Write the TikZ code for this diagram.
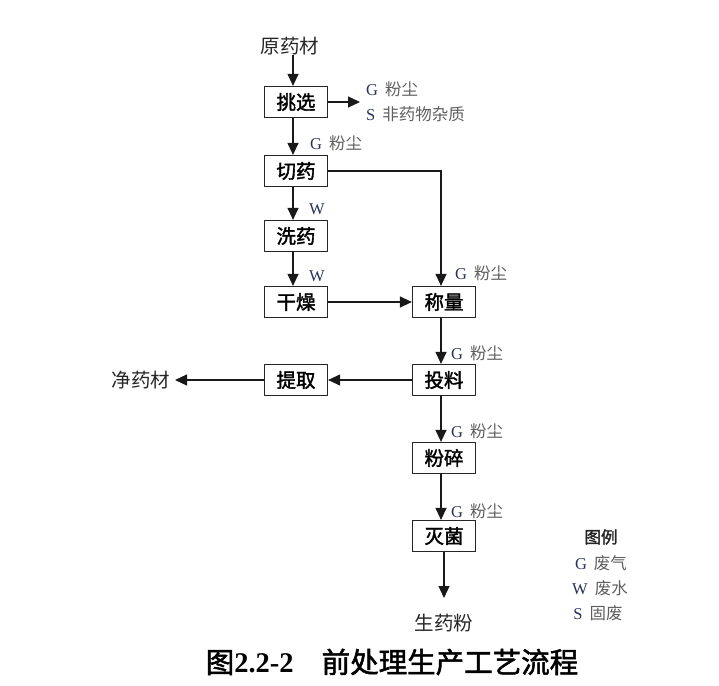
\documentclass[tikz,border=0pt]{standalone}
\usepackage{fontspec}
\setmainfont{Liberation Serif}
\newfontfamily\cjk{Noto Sans CJK SC}
\newfontfamily\cjkb[FakeBold=1.8]{Noto Sans CJK SC}
\usetikzlibrary{arrows.meta}
\definecolor{lblgray}{RGB}{95,95,95}
\definecolor{gblue}{RGB}{40,50,90}
\newcommand{\gfc}{{\color{gblue}G}\hspace{7pt}{\cjk 粉尘}}
\begin{document}
\begin{tikzpicture}[x=1pt,y=-1pt,
  box/.style={draw=black!85, line width=1.2pt, minimum width=63pt, minimum height=31pt, inner sep=0pt, font=\cjkb\fontsize{19.5}{19.5}\selectfont},
  txt/.style={inner sep=0pt, font=\cjk\fontsize{19.5}{19.5}\selectfont, text=black!85},
  lbl/.style={inner sep=0pt, anchor=west, font=\fontsize{16.5}{16.5}\selectfont, text=lblgray},
  arr/.style={line width=1.2pt, draw=black!90, -{Triangle[length=12pt,width=11pt]}},
  ln/.style={line width=1.2pt, draw=black!90}]
\useasboundingbox (0,0) rectangle (719,685);

% nodes
\node[txt] (src) at (290,46) {原药材};
\node[box] (tx) at (296,102) {挑选};
\node[box] (qy) at (296,171) {切药};
\node[box] (xy) at (296,236) {洗药};
\node[box] (gz) at (296,302) {干燥};
\node[box] (cl) at (444,302) {称量};
\node[box] (tq) at (296,380) {提取};
\node[box] (tl) at (444,380) {投料};
\node[box] (fs) at (444,458) {粉碎};
\node[box] (mj) at (444,536) {灭菌};
\node[txt] (jyc) at (141,380) {净药材};
\node[txt] (syf) at (444,623) {生药粉};
\coordinate (txout) at (360,102);
\coordinate (qyturn) at (441,171);
\coordinate (syfin) at (444,598);
\coordinate (jycin) at (175,380);

% connectors
\draw[arr] (src.south -| tx.north) ++(-3,0) coordinate (a1) -- (a1 |- tx.north);
\draw[arr] (tx.east) -- (txout);
\draw[arr] ([xshift=-3pt]tx.south) -- ([xshift=-3pt]qy.north);
\draw[arr] ([xshift=-3pt]qy.south) -- ([xshift=-3pt]xy.north);
\draw[arr] ([xshift=-3pt]xy.south) -- ([xshift=-3pt]gz.north);
\draw[arr] (gz.east) -- (cl.west);
\draw[arr] (qy.east) -- (qyturn) -- (qyturn |- cl.north);
\draw[arr] ([xshift=-3pt]cl.south) -- ([xshift=-3pt]tl.north);
\draw[arr] (tl.west) -- (tq.east);
\draw[arr] (tq.west) -- (jycin);
\draw[arr] ([xshift=-3pt]tl.south) -- ([xshift=-3pt]fs.north);
\draw[arr] ([xshift=-3pt]fs.south) -- ([xshift=-3pt]mj.north);
\draw[arr] (mj.south) -- (syfin);

% labels
\node[lbl] (l1) at (366,89) {\gfc};
\node[lbl] (l2) at (366,114) {{\color{gblue}S}\hspace{7pt}{\cjk 非药物杂质}};
\node[lbl] (l3) at (310,143) {\gfc};
\node[lbl] (l4) at (309,209) {{\color{gblue}W}};
\node[lbl] (l5) at (309,276) {{\color{gblue}W}};
\node[lbl] (l6) at (455,273) {\gfc};
\node[lbl] (l7) at (451,353) {\gfc};
\node[lbl] (l8) at (451,431) {\gfc};
\node[lbl] (l9) at (451,511) {\gfc};

% legend
\node[inner sep=0pt, font=\cjkb\fontsize{16.5}{16.5}\selectfont, text=black!85] (lg) at (601,537) {图例};
\node[inner sep=0pt, font=\fontsize{16.5}{16.5}\selectfont, text=lblgray] (lg1) at (601,563) {{\color{gblue}G}\hspace{7pt}{\cjk 废气}};
\node[inner sep=0pt, font=\fontsize{16.5}{16.5}\selectfont, text=lblgray] (lg2) at (600,588) {{\color{gblue}W}\hspace{7pt}{\cjk 废水}};
\node[inner sep=0pt, font=\fontsize{16.5}{16.5}\selectfont, text=lblgray] (lg3) at (598,613) {{\color{gblue}S}\hspace{7pt}{\cjk 固废}};

% caption
\node[inner sep=0pt, font=\fontsize{28.5}{28.5}\selectfont, text=black] (cap) at (392,662) {{\cjkb 图}\textbf{2.2-2}\hspace{28pt}{\cjkb 前处理生产工艺流程}};
\end{tikzpicture}
\end{document}
